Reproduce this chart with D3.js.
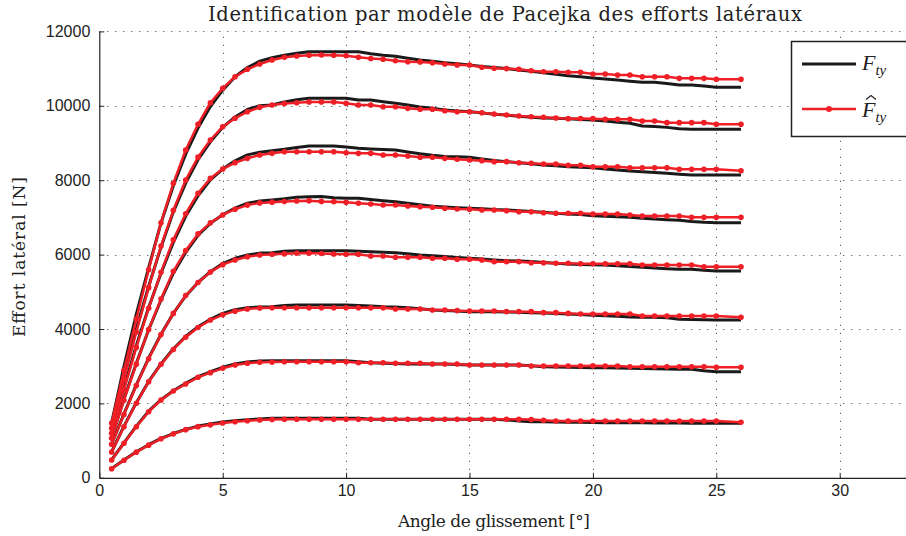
<!DOCTYPE html>
<html><head><meta charset="utf-8">
<script src="https://cdn.jsdelivr.net/npm/d3@7"></script>
<style>body{margin:0;background:#fff;} svg{display:block;}</style>
</head><body>
<svg id="chart" width="906" height="536"></svg>
<script>
// ---------- data ----------
const titleText = "Identification par modèle de Pacejka des efforts latéraux";
const xLabel = "Angle de glissement [°]";
const yLabel = "Effort latéral [N]";
const xTicks = [0, 5, 10, 15, 20, 25, 30];
const yTicks = [0, 2000, 4000, 6000, 8000, 10000, 12000];
const angles = [0.5,1,1.5,2,2.5,3,3.5,4,4.5,5,5.5,6,6.5,7,7.5,8,8.5,9,9.5,10,10.5,11,11.5,12,12.5,13,13.5,14,14.5,15,15.5,16,16.5,17,17.5,18,18.5,19,19.5,20,20.5,21,21.5,22,22.5,23,23.5,24,24.5,25,26];

// measured lateral force (black)
const meas1 = [250,480,700,890,1060,1190,1300,1390,1450,1500, 1535,1560,1580,1600,1600,1600,1600,1600,1600,1600, 1600,1572,1572,1572,1572,1572,1572,1572,1572,1572, 1572,1572,1554,1530,1509,1505,1500,1495,1490,1486, 1482,1482,1482,1478,1475,1472,1470,1468,1465,1465, 1465];
const meas2 = [485,940,1390,1790,2100,2340,2540,2720,2850,2970, 3060,3110,3140,3148,3148,3148,3148,3148,3148,3148, 3120,3094,3080,3070,3059,3059,3059,3059,3045,3032, 3032,3032,3032,3032,3010,2987,2980,2970,2965,2960, 2955,2950,2943,2935,2930,2925,2920,2916,2880,2852, 2852];
const meas3 = [700,1390,2020,2590,3060,3470,3800,4060,4260,4420, 4520,4573,4590,4600,4635,4645,4645,4645,4645,4645, 4630,4618,4600,4590,4573,4545,4511,4500,4485,4466, 4466,4466,4460,4450,4439,4430,4415,4403,4390,4370, 4355,4340,4325,4314,4314,4300,4260,4255,4250,4242, 4242];
const meas4 = [910,1720,2500,3220,3860,4420,4890,5250,5540,5760, 5900,5990,6040,6052,6090,6105,6105,6105,6105,6105, 6090,6075,6060,6052,6020,5989,5970,5950,5925,5900, 5880,5855,5837,5825,5812,5790,5770,5747,5735,5725, 5718,5700,5680,5658,5640,5620,5604,5604,5580,5559, 5559];
const meas5 = [1075,2120,3080,3980,4780,5500,6060,6520,6840,7070, 7250,7380,7440,7468,7500,7540,7556,7560,7530,7513, 7513,7480,7450,7423,7380,7340,7300,7280,7260,7245, 7230,7210,7199,7180,7160,7140,7110,7091,7075,7046, 7030,7015,7002,6980,6960,6940,6925,6890,6870,6858, 6858];
const meas6 = [1210,2420,3560,4580,5500,6330,7030,7580,8010,8300, 8520,8680,8750,8790,8830,8880,8919,8919,8919,8890, 8857,8840,8825,8812,8760,8710,8670,8640,8632,8615, 8570,8530,8498,8470,8440,8410,8390,8363,8350,8336, 8300,8274,8250,8229,8210,8185,8160,8140,8140,8140, 8140];
const meas7 = [1350,2750,4000,5150,6200,7150,7920,8550,9030,9420, 9700,9900,10000,10020,10100,10160,10202,10202,10202,10202, 10156,10156,10110,10070,10020,9970,9932,9890,9860,9841, 9810,9770,9753,9720,9695,9670,9664,9650,9630,9618, 9590,9555,9529,9457,9445,9420,9385,9370,9368,9368, 9368];
const meas8 = [1480,3000,4400,5650,6850,7850,8700,9400,9980,10420, 10780,11030,11200,11290,11360,11411,11455,11455,11455,11455, 11455,11400,11360,11330,11280,11230,11200,11160,11130,11097, 11060,11030,11000,10960,10930,10890,10850,10810,10782,10750, 10720,10694,10660,10632,10632,10600,10559,10559,10530,10497, 10497];

// Pacejka identified force (red)
const fit1 = [245,470,690,878,1048,1182,1294,1375,1424,1474, 1505,1532,1554,1568,1572,1572,1572,1572,1572,1572, 1572,1572,1572,1572,1572,1572,1572,1572,1572,1572, 1572,1572,1572,1572,1565,1545,1527,1527,1527,1527, 1527,1527,1527,1527,1527,1527,1527,1527,1527,1527, 1492];
const fit2 = [478,927,1374,1777,2091,2333,2522,2701,2826,2943, 3032,3078,3105,3110,3121,3121,3121,3121,3121,3121, 3094,3094,3094,3078,3078,3078,3059,3059,3059,3032, 3032,3032,3032,3032,3005,3005,3005,3005,3005,3010, 3005,3005,2987,2987,2987,2987,2987,2987,2987,2970, 2970];
const fit3 = [694,1374,2003,2584,3050,3450,3780,4040,4240,4380, 4480,4538,4565,4570,4573,4573,4573,4573,4573,4573, 4573,4573,4573,4538,4538,4538,4511,4511,4493,4484, 4484,4484,4466,4466,4466,4439,4439,4420,4403,4403, 4403,4403,4403,4349,4349,4349,4349,4349,4349,4349, 4314];
const fit4 = [900,1700,2480,3200,3850,4420,4900,5250,5530,5730, 5855,5944,5989,6008,6020,6035,6040,6030,6015,6008, 6008,5962,5962,5927,5927,5927,5900,5900,5874,5874, 5855,5810,5810,5810,5782,5782,5766,5766,5756,5756, 5756,5756,5756,5720,5720,5720,5720,5720,5675,5675, 5675];
const fit5 = [1062,2086,3055,3986,4805,5550,6109,6556,6854,7065, 7220,7330,7390,7410,7425,7441,7450,7430,7423,7405, 7379,7360,7333,7333,7306,7288,7271,7245,7226,7218, 7199,7199,7181,7153,7153,7127,7110,7110,7110,7091, 7091,7091,7065,7038,7038,7038,7038,7002,7002,7002, 7002];
const fit6 = [1196,2367,3506,4558,5523,6399,7100,7650,8050,8300, 8470,8588,8677,8722,8766,8766,8766,8766,8766,8739, 8722,8722,8677,8677,8651,8615,8615,8588,8562,8543, 8525,8498,8498,8470,8454,8435,8435,8400,8400,8363, 8363,8363,8336,8336,8336,8336,8293,8293,8293,8293, 8256];
const fit7 = [1333,2646,3919,5111,6232,7191,8005,8620,9081,9438, 9664,9841,9959,10020,10060,10083,10102,10102,10102,10066, 10022,10022,9976,9976,9932,9906,9906,9868,9841,9841, 9815,9780,9753,9726,9707,9691,9672,9655,9660,9655, 9637,9637,9637,9592,9592,9547,9547,9547,9547,9503, 9503];
const fit8 = [1470,2890,4270,5590,6858,7916,8812,9503,10083,10470, 10782,10981,11124,11231,11303,11340,11360,11366,11360,11347, 11303,11270,11250,11213,11186,11180,11159,11124,11100,11097, 11035,11008,11000,10981,10944,10917,10917,10900,10900,10855, 10855,10828,10828,10782,10782,10782,10738,10738,10738,10712, 10712];

const measured = [meas1, meas2, meas3, meas4, meas5, meas6, meas7, meas8];
const fitted = [fit1, fit2, fit3, fit4, fit5, fit6, fit7, fit8];

// ---------- drawing ----------
const svg = d3.select("#chart");
const W = 906, H = 536;
svg.append("rect").attr("width", W).attr("height", H).attr("fill", "#fff");

const x = d3.scaleLinear().domain([0, 35]).range([99.3, 99.3 + 35 * 24.68]);
const y = d3.scaleLinear().domain([0, 12000]).range([477.8, 31.4]);

const RED = "#ee1f26", BLACK = "#1a1a1a";

// grid
const grid = svg.append("g").attr("stroke", "#333").attr("stroke-width", 1).attr("stroke-dasharray", "1,7");
grid.selectAll("line.v").data(xTicks.filter(d => d > 0)).join("line")
  .attr("x1", d => Math.round(x(d)) + 0.5).attr("x2", d => Math.round(x(d)) + 0.5)
  .attr("y1", y(0)).attr("y2", y(12000));
grid.selectAll("line.h").data(yTicks.filter(d => d > 0)).join("line")
  .attr("y1", d => Math.round(y(d)) + 0.5).attr("y2", d => Math.round(y(d)) + 0.5)
  .attr("x1", x(0)).attr("x2", W);

const line = d3.line().x((d, i) => x(angles[i])).y(d => y(d));

// measured curves (black)
svg.append("g").selectAll("path").data(measured).join("path")
  .attr("d", d => line(d)).attr("fill", "none")
  .attr("stroke", BLACK).attr("stroke-width", 3).attr("stroke-linejoin", "round");

// fitted curves (red) with markers
const gf = svg.append("g");
fitted.forEach(series => {
  gf.append("path").attr("d", line(series)).attr("fill", "none")
    .attr("stroke", RED).attr("stroke-width", 2.5).attr("stroke-linejoin", "round");
  gf.append("g").selectAll("circle").data(series).join("circle")
    .attr("cx", (d, i) => x(angles[i])).attr("cy", d => y(d)).attr("r", 2.8).attr("fill", RED);
});

// axes
const axisFont = "'Liberation Sans', Arial, sans-serif";
const ax = svg.append("g").attr("transform", `translate(0,${y(0)})`)
  .call(d3.axisBottom(x).tickValues(xTicks).tickFormat(d3.format("d")).tickSizeInner(-5).tickSizeOuter(0).tickPadding(7));
const ay = svg.append("g").attr("transform", `translate(${x(0)},0)`)
  .call(d3.axisLeft(y).tickValues(yTicks).tickFormat(d3.format("d")).tickSizeInner(-5).tickSizeOuter(0).tickPadding(9));
[ax, ay].forEach(g => {
  g.selectAll("text").attr("font-family", axisFont).attr("font-size", 16).attr("fill", "#222");
  g.selectAll("line").attr("stroke", "#222");
  g.select(".domain").attr("stroke", "#222").attr("stroke-width", 1.2);
});

// title and axis labels
const serif = "'DejaVu Serif', 'Liberation Serif', serif";
svg.append("text").attr("x", 505).attr("y", 21).attr("text-anchor", "middle")
  .attr("font-family", serif).attr("font-size", 19.5).attr("fill", "#222")
  .attr("textLength", 594).attr("lengthAdjust", "spacing").text(titleText);
svg.append("text").attr("x", 494).attr("y", 527).attr("text-anchor", "middle")
  .attr("font-family", serif).attr("font-size", 17).attr("fill", "#222")
  .attr("textLength", 192).attr("lengthAdjust", "spacing").text(xLabel);
svg.append("text").attr("transform", "translate(25,257) rotate(-90)").attr("text-anchor", "middle")
  .attr("font-family", serif).attr("font-size", 17).attr("fill", "#222")
  .attr("textLength", 160).attr("lengthAdjust", "spacing").text(yLabel);

// legend
const lg = svg.append("g");
lg.append("rect").attr("x", 791.5).attr("y", 41.5).attr("width", 200).attr("height", 95)
  .attr("fill", "#fff").attr("stroke", "#222").attr("stroke-width", 1.5);
lg.append("line").attr("x1", 802).attr("x2", 856).attr("y1", 64).attr("y2", 64)
  .attr("stroke", BLACK).attr("stroke-width", 3);
lg.append("line").attr("x1", 802).attr("x2", 856).attr("y1", 109).attr("y2", 109)
  .attr("stroke", RED).attr("stroke-width", 2.5);
lg.append("circle").attr("cx", 829).attr("cy", 109).attr("r", 3).attr("fill", RED);
const lfont = "'Liberation Serif', 'DejaVu Serif', serif";
const t1 = lg.append("text").attr("x", 862).attr("y", 70).attr("font-family", lfont)
  .attr("font-style", "italic").attr("font-size", 22).attr("fill", "#222");
t1.append("tspan").text("F");
t1.append("tspan").attr("font-size", 15).attr("dy", 5).text("ty");
const t2 = lg.append("text").attr("x", 862).attr("y", 117).attr("font-family", lfont)
  .attr("font-style", "italic").attr("font-size", 22).attr("fill", "#222");
t2.append("tspan").text("F");
t2.append("tspan").attr("font-size", 15).attr("dy", 5).text("ty");
// circumflex accent drawn as a small path over the F
lg.append("path").attr("d", "M866,99.5 L871,95.5 L876,99.5").attr("fill", "none")
  .attr("stroke", "#222").attr("stroke-width", 1.1);
</script>
</body></html>
